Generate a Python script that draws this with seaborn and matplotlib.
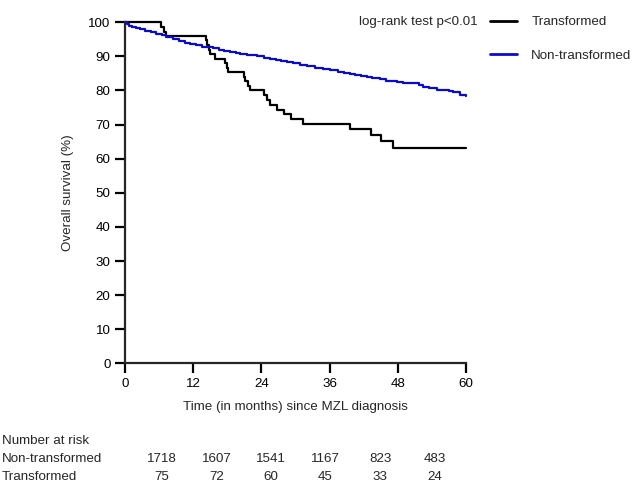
import numpy as np
import pandas as pd
import matplotlib
matplotlib.use("Agg")
import matplotlib.pyplot as plt
import matplotlib.transforms as mtransforms
import seaborn as sns

# Kaplan-Meier estimates (months, % surviving)
trans_t = [0, 6.3, 6.9, 7.3, 14.3, 14.5, 14.7, 14.9, 15.8, 17.6, 17.9, 18.2,
           21.0, 21.2, 21.6, 22.0, 24.4, 24.9, 25.6, 26.7, 28.0, 29.2, 31.4,
           39.6, 43.2, 45.0, 47.2, 60]
trans_s = [100, 98.7, 97.3, 96.0, 94.7, 93.3, 92.0, 90.7, 89.3, 88.0, 86.7, 85.3,
           84.0, 82.7, 81.3, 80.0, 78.6, 77.2, 75.8, 74.4, 73.0, 71.6, 70.1,
           68.6, 66.9, 65.1, 63.2, 63.2]

nontrans_t = [0, 0.3, 0.7, 1.2, 2.0, 2.6, 3.5, 4.5, 5.5, 6.5, 7.3, 8.5, 9.5,
              10.5, 11.4, 12.5, 13.5, 14.4, 15.5, 16.5, 17.5, 18.5, 19.5, 20.2,
              21.5, 23.2, 24.4, 25.5, 26.5, 27.5, 28.5, 29.5, 30.8, 32.0, 33.5,
              34.9, 36.0, 37.5, 38.5, 39.6, 40.5, 41.5, 42.5, 43.5, 44.9, 46.0,
              47.0, 47.8, 49.0, 50.8, 51.7, 52.5, 53.5, 54.9, 56.0, 57.0, 57.8,
              59.0, 60]
nontrans_s = [100, 99.5, 99.0, 98.6, 98.2, 97.9, 97.5, 97.1, 96.6, 96.2, 95.8,
              95.2, 94.6, 94.0, 93.5, 93.2, 92.9, 92.7, 92.4, 92.0, 91.7, 91.3,
              91.0, 90.8, 90.5, 90.1, 89.4, 89.2, 89.0, 88.7, 88.3, 88.0, 87.5,
              87.2, 86.7, 86.2, 85.9, 85.5, 85.2, 84.9, 84.5, 84.2, 84.0, 83.8,
              83.3, 82.8, 82.7, 82.6, 82.3, 82.1, 81.6, 81.1, 80.6, 80.2, 80.0,
              79.9, 79.7, 78.7, 78.4]

groups = ["Transformed", "Non-transformed"]
colors = ["black", "#0b0bcf"]
risk_nontrans = [1718, 1607, 1541, 1167, 823, 483]
risk_trans = [75, 72, 60, 45, 33, 24]

df = pd.concat([
    pd.DataFrame({"time": trans_t, "surv": trans_s, "group": groups[0]}),
    pd.DataFrame({"time": nontrans_t, "surv": nontrans_s, "group": groups[1]}),
])

sns.set_style("ticks")
plt.rcParams["font.family"] = ["Liberation Sans", "DejaVu Sans"]
plt.rcParams["font.size"] = 9.6

W, H = 633, 486
fig = plt.figure(figsize=(W / 100, H / 100), dpi=100)
ax = fig.add_axes([125 / W, 1 - 363.3 / H, 341 / W, 341 / H])

sns.lineplot(data=df, x="time", y="surv", hue="group", hue_order=groups,
             palette=colors, estimator=None, sort=False, drawstyle="steps-post",
             linewidth=1.6, ax=ax, clip_on=False)

ax.set_xlim(0, 60)
ax.set_ylim(0, 100)
ax.set_xticks(np.arange(0, 61, 12))
ax.set_yticks(np.arange(0, 101, 10))
sns.despine(ax=ax)
for sp in ["left", "bottom"]:
    ax.spines[sp].set_linewidth(1.6)
ax.tick_params(direction="out", length=7, width=1.6, labelsize=9.6, pad=3.5,
               colors="black")
ax.set_xlabel("Time (in months) since MZL diagnosis", fontsize=9.6, labelpad=8)
ax.set_ylabel("Overall survival (%)", fontsize=9.6, labelpad=10)

leg = ax.legend(loc="upper left", bbox_to_anchor=(490 / W, 1 - 16 / H),
                bbox_transform=fig.transFigure, frameon=False, borderpad=0,
                borderaxespad=0, handlelength=2.0, handletextpad=1.1,
                labelspacing=1.6, fontsize=9.6)
for line in leg.get_lines():
    line.set_linewidth(2.0)

fig.text(478 / W, 1 - 22 / H, "log-rank test p<0.01", ha="right", va="center",
         fontsize=9.6)

# number at risk table
blend = mtransforms.blended_transform_factory(ax.transData, fig.transFigure)
xpos = np.linspace(6.5, 54.5, len(risk_trans))
rows = [("Number at risk", None, 441), ("Non-transformed", risk_nontrans, 459),
        ("Transformed", risk_trans, 477)]
for label, vals, ypx in rows:
    fig.text(2 / W, 1 - ypx / H, label, ha="left", va="center", fontsize=9.6)
    if vals is not None:
        for xp, v in zip(xpos, vals):
            ax.text(xp, 1 - ypx / H, str(v), transform=blend, ha="center",
                    va="center", fontsize=9.6)

fig.savefig("out.png", dpi=100)
